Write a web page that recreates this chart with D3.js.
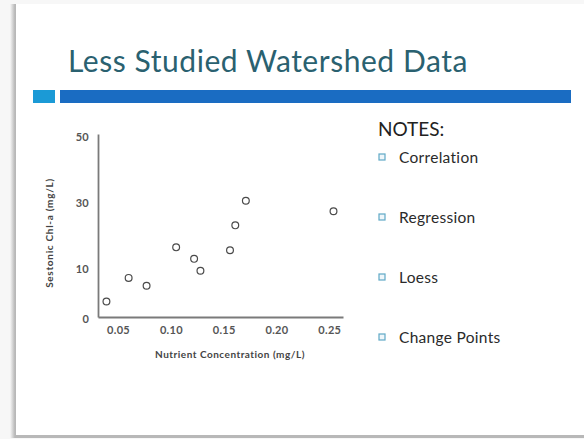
<!DOCTYPE html>
<html>
<head>
<meta charset="utf-8">
<script src="https://cdn.jsdelivr.net/npm/d3@7"></script>
<style>
  html, body { margin: 0; padding: 0; background: #f7f7f7; }
  svg { display: block; }
</style>
</head>
<body>
<script>
// Nutrient concentration (mg/L) and sestonic chlorophyll-a (mg/L) per site
const nutrient = [0.039, 0.060, 0.077, 0.105, 0.122, 0.128, 0.156, 0.161, 0.171, 0.254];
const chla     = [0.0,   7.2,   4.8,   16.5,  13.0,  9.4,   15.6,  23.2,  30.7,  27.5];

const xTicks = [0.05, 0.10, 0.15, 0.20, 0.25];
const yTicks = [10, 30, 50];
const yOriginLabel = "0";

const notes = ["Correlation", "Regression", "Loess", "Change Points"];

const W = 584, H = 439;
const font = "Lato, 'Open Sans', sans-serif";

const svg = d3.select("body").append("svg")
  .attr("width", W).attr("height", H);

// slide card with a soft edge shadow
const defs = svg.append("defs");
const sh = defs.append("linearGradient").attr("id", "edge").attr("x1", 0).attr("x2", 1);
sh.append("stop").attr("offset", 0).attr("stop-color", "#f7f7f7");
sh.append("stop").attr("offset", 1).attr("stop-color", "#a9a9a9");
svg.append("rect").attr("x", 10).attr("y", 4).attr("width", 6).attr("height", 434).attr("fill", "url(#edge)");
svg.append("rect").attr("x", 15).attr("y", 4).attr("width", W).attr("height", 434).attr("fill", "#b8b8b8");
svg.append("rect").attr("x", 16).attr("y", 4).attr("width", W).attr("height", 431).attr("fill", "#ffffff");

// title
svg.append("text")
  .attr("x", 68).attr("y", 72)
  .attr("font-family", font).attr("font-size", 30)
  .attr("letter-spacing", 0.55)
  .attr("fill", "#2a6170")
  .text("Less Studied Watershed Data");

// accent bars under the title
svg.append("rect").attr("x", 33).attr("y", 90).attr("width", 22).attr("height", 13).attr("fill", "#1b9ad6");
svg.append("rect").attr("x", 60).attr("y", 90).attr("width", 511).attr("height", 13).attr("fill", "#1a6cc2");

// scatter plot
const x = d3.scaleLinear().domain([0.031, 0.263]).range([98, 343]);
const y = d3.scaleLinear().domain([-4.7, 51]).range([317, 134]);

const g = svg.append("g");

const xAxis = g.append("g")
  .attr("transform", `translate(0,${y.range()[0]})`)
  .call(d3.axisBottom(x).tickValues(xTicks).tickSize(0).tickPadding(9)
    .tickFormat(d3.format(".2f")));
xAxis.select(".domain").attr("stroke", "#7a7a7a").attr("stroke-width", 1.8);

const yAxis = g.append("g")
  .attr("transform", `translate(${x.range()[0]},0)`)
  .call(d3.axisLeft(y).tickValues(yTicks).tickSize(0).tickPadding(9));
yAxis.select(".domain").attr("stroke", "#7a7a7a").attr("stroke-width", 1.8);

g.selectAll(".tick text")
  .attr("font-family", font).attr("font-size", 11).attr("font-weight", 700)
  .attr("letter-spacing", 0.3)
  .attr("fill", "#555");

// origin label sits in the axis corner
g.append("text")
  .attr("x", x.range()[0] - 9).attr("y", y.range()[0] + 3)
  .attr("text-anchor", "end").attr("dominant-baseline", "middle")
  .attr("font-family", font).attr("font-size", 11).attr("font-weight", 700)
  .attr("fill", "#555").text(yOriginLabel);

g.append("text")
  .attr("x", 230).attr("y", 358)
  .attr("text-anchor", "middle")
  .attr("font-family", font).attr("font-size", 10).attr("font-weight", 700)
  .attr("letter-spacing", 0.5)
  .attr("fill", "#444")
  .text("Nutrient Concentration (mg/L)");

g.append("text")
  .attr("transform", "translate(53,233) rotate(-90)")
  .attr("text-anchor", "middle")
  .attr("font-family", font).attr("font-size", 10).attr("font-weight", 700)
  .attr("letter-spacing", 0.7)
  .attr("fill", "#444")
  .text("Sestonic  Chl-a (mg/L)");

g.selectAll("circle.pt")
  .data(nutrient.map((v, i) => [v, chla[i]]))
  .join("circle")
  .attr("class", "pt")
  .attr("cx", d => x(d[0])).attr("cy", d => y(d[1]))
  .attr("r", 3.4)
  .attr("fill", "none").attr("stroke", "#4a4a4a").attr("stroke-width", 1.2);

// notes panel
svg.append("text")
  .attr("x", 378).attr("y", 136)
  .attr("font-family", font).attr("font-size", 19)
  .attr("fill", "#222").text("NOTES:");

const item = svg.selectAll("g.note")
  .data(notes)
  .join("g")
  .attr("class", "note")
  .attr("transform", (d, i) => `translate(0,${157 + i * 60})`);

item.append("rect")
  .attr("x", 379).attr("y", -3).attr("width", 6).attr("height", 6)
  .attr("fill", "#eef6fa").attr("stroke", "#5fa9c6").attr("stroke-width", 1.2);

item.append("text")
  .attr("x", 399).attr("y", 0)
  .attr("dominant-baseline", "central")
  .attr("font-family", font).attr("font-size", 15.5)
  .attr("letter-spacing", 0.3)
  .attr("fill", "#2a2a2a")
  .text(d => d);
</script>
</body>
</html>
